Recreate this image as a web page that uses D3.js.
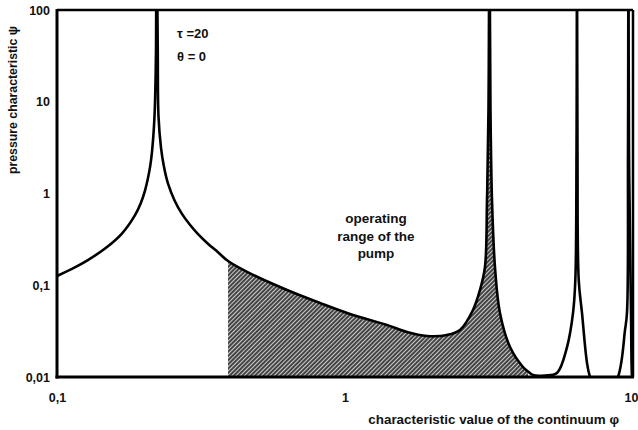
<!DOCTYPE html>
<html>
<head>
<meta charset="utf-8">
<script src="https://cdn.jsdelivr.net/npm/d3@7"></script>
<style>
  html, body { margin: 0; padding: 0; background: #fff; }
  svg { display: block; }
  text { font-family: "Liberation Sans", Arial, sans-serif; font-weight: bold; fill: #111; }
</style>
</head>
<body>
<svg id="chart" width="638" height="430"></svg>
<script>
// characteristic value of the continuum (phi) and pressure characteristic (psi)
const phi = [
  0.1, 0.114, 0.128, 0.148, 0.168, 0.1866, 0.195, 0.2022, 0.2104, 0.2138,
  0.2181, 0.2207, 0.2215, 0.2238, 0.2251, 0.2297, 0.235, 0.2428, 0.256, 0.2716,
  0.289, 0.3088, 0.335, 0.3622, 0.3925, 0.4792, 0.629, 0.819, 1.066, 1.399,
  1.642, 1.927, 2.26, 2.507, 2.782, 2.942, 3.062, 3.112, 3.149, 3.174,
  3.2, 3.239, 3.317, 3.452, 3.741, 4.15, 4.32, 4.497, 4.948, 5.446,
  5.901, 6.191, 6.306, 6.366, 6.391, 6.416, 6.479, 6.651, 6.923, 7.09,
  7.8, 8.869, 9.381, 9.53, 9.608, 9.647, 9.685, 9.842, 9.92, 10
];
const psi = [
  0.126, 0.1535, 0.188, 0.256, 0.366, 0.582, 0.774, 1.083, 1.937, 2.88,
  7.06, 36.6, 1000, 36.6, 6.94, 3.15, 1.985, 1.29, 0.84, 0.599,
  0.459, 0.361, 0.282, 0.229, 0.184, 0.13, 0.0888, 0.0641, 0.0474, 0.0369,
  0.0309, 0.028, 0.0287, 0.0325, 0.0537, 0.0888, 0.158, 0.849, 8.13, 1000,
  8.13, 0.849, 0.158, 0.0499, 0.0212, 0.01285, 0.01148, 0.01051, 0.0104, 0.01106,
  0.0212, 0.0499, 0.114, 2.98, 1000, 2.98, 0.114, 0.0499, 0.01422, 0.01,
  0.005, 0.01, 0.0325, 0.0499, 2.98, 1000, 2.98, 0.0499, 0.01, 0.008
];

// operating range of the pump (shaded band along phi)
const rangeFrom = 0.3925;
const rangeTo = 4.32;

const xTicks = [0.1, 1, 10];
const xTickLabels = ["0,1", "1", "10"];
const yTicks = [0.01, 0.1, 1, 10, 100];
const yTickLabels = ["0,01", "0,1", "1", "10", "100"];

const params = ["\u03c4 =20", "\u03b8 = 0"];
const rangeLabel = ["operating", "range of the", "pump"];
const xTitle = "characteristic value of the continuum \u03c6";
const yTitle = "pressure characteristic \u03c8";

const svg = d3.select("#chart");
const plotLeft = 57, plotRight = 633, plotTop = 10, plotBottom = 377;

const x = d3.scaleLog().domain([0.1, 10]).range([plotLeft, plotRight]);
const y = d3.scaleLog().domain([0.01, 100]).range([plotBottom, plotTop]);

const points = phi.map((p, i) => ({ phi: p, psi: psi[i] }));
const smooth = d3.curveCatmullRom.alpha(0.5);

const defs = svg.append("defs");
defs.append("clipPath").attr("id", "plot-clip")
  .append("rect").attr("x", plotLeft).attr("y", plotTop)
  .attr("width", plotRight - plotLeft).attr("height", plotBottom - plotTop);

// diagonal hatching for the operating range
const pat = defs.append("pattern")
  .attr("id", "hatch").attr("patternUnits", "userSpaceOnUse")
  .attr("width", 3).attr("height", 3)
  .attr("patternTransform", "rotate(-45)");
pat.append("rect").attr("width", 3).attr("height", 3).attr("fill", "#444");
pat.append("rect").attr("x", 0).attr("y", 0).attr("width", 3).attr("height", 1).attr("fill", "#cccccc");

const plot = svg.append("g").attr("clip-path", "url(#plot-clip)");

const area = d3.area()
  .x(d => x(d.phi))
  .y0(plotBottom)
  .y1(d => y(d.psi))
  .curve(smooth);

plot.append("path")
  .datum(points.filter(d => d.phi >= rangeFrom && d.phi <= rangeTo))
  .attr("d", area)
  .attr("fill", "url(#hatch)");

const line = d3.line()
  .x(d => x(d.phi))
  .y(d => y(d.psi))
  .curve(smooth);

plot.append("path")
  .datum(points)
  .attr("d", line)
  .attr("fill", "none")
  .attr("stroke", "#000")
  .attr("stroke-width", 2.6)
  .attr("stroke-linejoin", "round");

// frame
const frame = svg.append("g").attr("stroke", "#000").attr("fill", "none");
frame.append("line").attr("x1", plotLeft).attr("x2", plotRight).attr("y1", plotTop).attr("y2", plotTop).attr("stroke-width", 2.5);
frame.append("line").attr("x1", plotRight).attr("x2", plotRight).attr("y1", plotTop).attr("y2", plotBottom).attr("stroke-width", 2.5);
frame.append("line").attr("x1", plotLeft).attr("x2", plotLeft).attr("y1", plotTop - 1).attr("y2", plotBottom + 1.5).attr("stroke-width", 3);
frame.append("line").attr("x1", plotLeft - 1.5).attr("x2", plotRight + 1).attr("y1", plotBottom).attr("y2", plotBottom).attr("stroke-width", 3);

// axes (labels only, no tick marks)
const yAxis = d3.axisLeft(y).tickValues(yTicks)
  .tickFormat((d, i) => yTickLabels[i]).tickSize(0).tickPadding(7);
const gy = svg.append("g").attr("transform", `translate(${plotLeft},0)`).call(yAxis);
gy.select(".domain").remove();
gy.selectAll("text").attr("font-size", 12.5).attr("font-family", null).attr("fill", "#111");

const xAxis = d3.axisBottom(x).tickValues(xTicks)
  .tickFormat((d, i) => xTickLabels[i]).tickSize(0).tickPadding(16);
const gx = svg.append("g").attr("transform", `translate(0,${plotBottom})`).call(xAxis);
gx.select(".domain").remove();
gx.selectAll("text").attr("font-size", 12.5).attr("font-family", null).attr("fill", "#111");
// keep the last label inside the page edge
gx.selectAll(".tick").filter(d => d === 10).select("text").attr("text-anchor", "end").attr("x", 5);

// axis titles
svg.append("text")
  .attr("x", 619).attr("y", 424)
  .attr("text-anchor", "end").attr("font-size", 13.4)
  .text(xTitle);

svg.append("text")
  .attr("transform", "translate(17,100) rotate(-90)")
  .attr("text-anchor", "middle").attr("font-size", 12.3)
  .text(yTitle);

// parameters
svg.append("g").selectAll("text").data(params).join("text")
  .attr("x", 177).attr("y", (d, i) => 38 + i * 23)
  .attr("font-size", 13)
  .text(d => d);

// operating range annotation
svg.append("g").selectAll("text").data(rangeLabel).join("text")
  .attr("x", 376).attr("y", (d, i) => 223 + i * 17.5)
  .attr("text-anchor", "middle").attr("font-size", 13.5)
  .text(d => d);
</script>
</body>
</html>
